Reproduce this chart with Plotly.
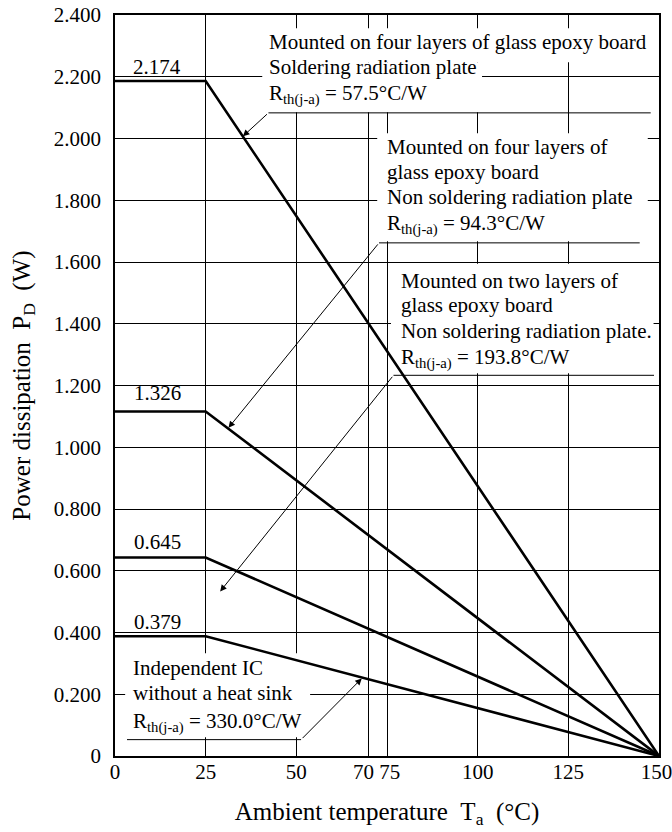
import plotly.graph_objects as go

# Derating curves (x: ambient temperature, y: power in W)
temps = [0, 25, 150]
soldering_4layer = [2.186, 2.186, 0]
non_soldering_4layer = [1.116, 1.116, 0]
two_layer = [0.643, 0.643, 0]
independent_ic = [0.388, 0.388, 0]

rated_labels = ["2.174", "1.326", "0.645", "0.379"]
rated_label_y = [2.233, 1.177, 0.694, 0.435]

x_ticks = [0, 25, 50, 70, 75, 100, 125, 150]
x_ticktext = ["0", "25", "50", "70\u00a0\u00a0", "\u00a075", "100", "125", "150\u00a0"]
y_ticks = [0, 0.2, 0.4, 0.6, 0.8, 1.0, 1.2, 1.4, 1.6, 1.8, 2.0, 2.2, 2.4]
y_ticktext = ["0"] + ["%.3f" % v for v in y_ticks[1:]]

FONT = "Liberation Serif, Times New Roman, serif"
FS = 21
RTH = "R<sub>th(j-a)</sub> = "

fig = go.Figure()
for ys in [soldering_4layer, non_soldering_4layer, two_layer, independent_ic]:
    fig.add_trace(go.Scatter(x=temps, y=ys, mode="lines",
                             line=dict(color="black", width=2.6),
                             showlegend=False, hoverinfo="skip", cliponaxis=False))

# white boxes hiding the grid behind the notes (drawn between grid and data)
masks = [
    (40.6, 147.4, 2.247, 2.357),
    (40.6, 101.2, 2.085, 2.247),
    (72.3, 146.9, 1.667, 2.017),
    (76.1, 148.5, 1.240, 1.594),
    (2.8, 53.8, 0.061, 0.333),
]
shapes = []
for x0, x1, y0, y1 in masks:
    shapes.append(dict(type="rect", layer="between", x0=x0, x1=x1, y0=y0, y1=y1,
                       xref="x", yref="y", fillcolor="white", line=dict(width=0)))

# leader lines: horizontal part, then arrow to the curve
leaders = [
    (42.31, 147.71, 2.083, 35.26, 2.007),
    (72.80, 144.68, 1.662, 31.29, 1.063),
    (76.79, 148.62, 1.233, 29.00, 0.533),
    (51.31, 3.31, 0.053, 68.03, 0.251),
]
annotations = []
for x_tail, x_end, y_h, x_tip, y_tip in leaders:
    shapes.append(dict(type="line", layer="above", x0=x_tail, x1=x_end, y0=y_h, y1=y_h,
                       xref="x", yref="y", line=dict(color="black", width=1)))
    annotations.append(dict(x=x_tip, y=y_tip, ax=x_tail, ay=y_h, axref="x", ayref="y",
                            xref="x", yref="y", text="", showarrow=True,
                            arrowhead=2, arrowsize=1.3, arrowwidth=1, arrowcolor="black",
                            standoff=0, startstandoff=0))

notes = [
    (42.0, 2.314, "Mounted on four layers of glass epoxy board"),
    (42.0, 2.231, "Soldering radiation plate"),
    (42.0, 2.141, RTH + "57.5°C/W"),
    (74.45, 1.974, "Mounted on four layers of"),
    (74.45, 1.893, "glass epoxy board"),
    (74.45, 1.810, "Non soldering radiation plate"),
    (74.45, 1.723, RTH + "94.3°C/W"),
    (78.3, 1.540, "Mounted on two layers of"),
    (78.3, 1.461, "glass epoxy board"),
    (78.3, 1.377, "Non soldering radiation plate."),
    (78.3, 1.289, RTH + "193.8°C/W"),
    (4.41, 0.284, "Independent IC"),
    (4.41, 0.205, "without a heat sink"),
    (4.41, 0.109, RTH + "330.0°C/W"),
]
for x, y, t in notes:
    annotations.append(dict(x=x, y=y, xref="x", yref="y", text=t, showarrow=False,
                            xanchor="left", yanchor="middle",
                            font=dict(family=FONT, size=FS, color="black")))

for t, y in zip(rated_labels, rated_label_y):
    annotations.append(dict(x=11.65, y=y, xref="x", yref="y", text=t, showarrow=False,
                            xanchor="center", yanchor="middle",
                            font=dict(family=FONT, size=FS, color="black")))

fig.update_layout(
    width=672, height=832,
    margin=dict(l=115, r=13, t=15, b=76),
    plot_bgcolor="white", paper_bgcolor="white",
    font=dict(family=FONT, size=FS, color="black"),
    shapes=shapes, annotations=annotations,
)
fig.update_xaxes(range=[0, 150], tickvals=x_ticks, ticktext=x_ticktext,
                 showgrid=True, gridcolor="black", gridwidth=1, zeroline=False,
                 showline=True, linecolor="black", linewidth=1.6, mirror=True,
                 ticks="", ticklabelstandoff=-4, tickangle=0, automargin=False,
                 ticklabeloverflow="allow",
                 title=dict(text="Ambient temperature\u00a0\u00a0T<sub>a</sub>\u00a0\u00a0(°C)",
                            standoff=19))
fig.update_yaxes(range=[0, 2.4], tickvals=y_ticks, ticktext=y_ticktext,
                 showgrid=True, gridcolor="black", gridwidth=1, zeroline=False,
                 showline=True, linecolor="black", linewidth=1.6, mirror=True,
                 ticks="", ticklabelstandoff=8, automargin=False,
                 ticklabeloverflow="allow",
                 title=dict(text="Power dissipation\u00a0\u00a0P<sub>D</sub>\u00a0\u00a0(W)",
                            standoff=16))

# drop the browser's default 8px page margin so the figure fills the window
fig.write_html("out.html", config={"displayModeBar": False},
               post_script="document.body.style.margin='0';")
